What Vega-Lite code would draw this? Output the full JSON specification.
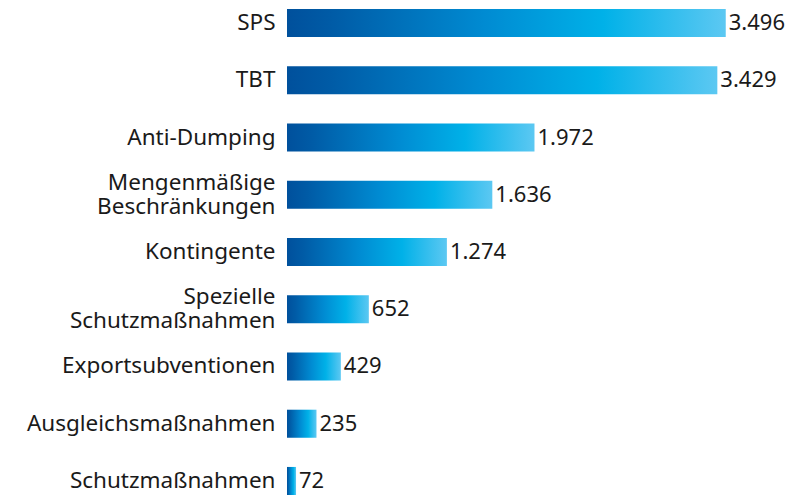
{
  "$schema": "https://vega.github.io/schema/vega-lite/v6.json",
  "autosize": "none",
  "width": 502,
  "height": 486,
  "padding": {"left": 287, "top": 9, "right": 22, "bottom": 4},
  "background": "white",
  "config": {
    "view": {"stroke": null},
    "locale": {"number": {"decimal": ",", "thousands": ".", "grouping": [3], "currency": ["", " €"]}},
    "font": "Noto Sans"
  },
  "data": {
    "values": [
      {"kategorie": "SPS", "anzahl": 3496},
      {"kategorie": "TBT", "anzahl": 3429},
      {"kategorie": "Anti-Dumping", "anzahl": 1972},
      {"kategorie": "Mengenmäßige|Beschränkungen", "anzahl": 1636},
      {"kategorie": "Kontingente", "anzahl": 1274},
      {"kategorie": "Spezielle|Schutzmaßnahmen", "anzahl": 652},
      {"kategorie": "Exportsubventionen", "anzahl": 429},
      {"kategorie": "Ausgleichsmaßnahmen", "anzahl": 235},
      {"kategorie": "Schutzmaßnahmen", "anzahl": 72}
    ]
  },
  "encoding": {
    "y": {
      "field": "kategorie",
      "type": "nominal",
      "sort": null,
      "scale": {"paddingInner": 0.51, "paddingOuter": 0},
      "axis": {
        "title": null,
        "domain": false,
        "ticks": false,
        "labelPadding": 12,
        "labelFontSize": 22.5,
        "labelColor": "#1a1a1a",
        "labelFont": "Noto Sans",
        "labelLineHeight": 24,
        "labelLimit": 0,
        "labelOffset": {"condition": {"test": "indexof(datum.label, '|') >= 0", "value": -12}, "value": 0},
        "labelExpr": "split(datum.label, '|')"
      }
    },
    "x": {
      "field": "anzahl",
      "type": "quantitative",
      "scale": {"domain": [0, 4000]},
      "axis": null
    }
  },
  "layer": [
    {
      "mark": {
        "type": "bar",
        "color": {
          "gradient": "linear",
          "x1": 0, "x2": 1, "y1": 0, "y2": 0,
          "stops": [
            {"offset": 0, "color": "#00509c"},
            {"offset": 0.1, "color": "#005ba6"},
            {"offset": 0.45, "color": "#008bd2"},
            {"offset": 0.72, "color": "#00b1e8"},
            {"offset": 1, "color": "#5cc8f2"}
          ]
        }
      }
    },
    {
      "mark": {"type": "text", "align": "left", "baseline": "middle", "dx": 3, "fontSize": 22, "color": "#1a1a1a", "font": "Noto Sans"},
      "encoding": {"text": {"field": "anzahl", "type": "quantitative", "format": ",d"}}
    }
  ]
}
